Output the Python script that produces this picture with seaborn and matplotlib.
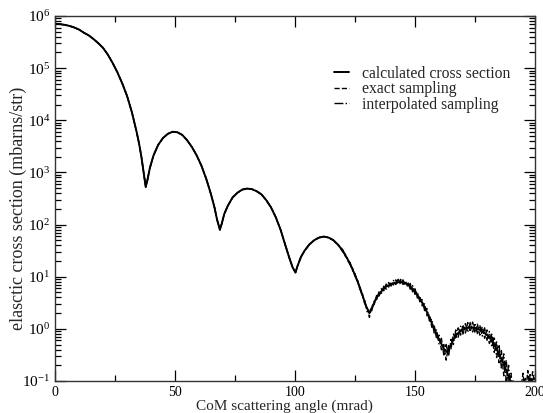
import numpy as np
import matplotlib
matplotlib.use("Agg")
import matplotlib.pyplot as plt
import seaborn as sns
from matplotlib.ticker import LogLocator, MultipleLocator, NullFormatter

# calculated cross section: angle (mrad) and log10 of cross section (mbarns/str)
calc_angle = [0, 2, 4, 6, 8, 10, 12, 14, 16, 18, 20, 22, 24, 26, 28, 30, 32,
              34, 35, 36, 37, 37.8, 38.5, 39.5, 41, 43, 45, 47, 49, 51, 53, 55,
              57, 59, 61, 63, 65, 66.5, 67.5, 68.7, 69.5, 70.5, 72, 74, 76, 78,
              80, 82, 84, 86, 88, 90, 92, 94, 96, 97.5, 99, 100.2, 101, 102.5,
              104, 106, 108, 110, 112, 114, 116, 118, 120, 122, 124, 126, 128,
              129.5, 131, 132.5, 134, 136, 138, 140, 142, 144, 146, 148, 150,
              152, 154, 156, 158, 160, 162, 163.5, 165, 167, 169, 171, 173, 175,
              177, 179, 181, 183, 185, 187, 189, 191, 193, 194, 196, 198, 200]
calc_log = [5.85, 5.845, 5.83, 5.81, 5.78, 5.74, 5.68, 5.63, 5.56, 5.48, 5.39,
            5.26, 5.10, 4.92, 4.71, 4.47, 4.16, 3.78, 3.56, 3.30, 2.98, 2.72,
            2.85, 3.08, 3.32, 3.53, 3.66, 3.74, 3.78, 3.77, 3.72, 3.62, 3.49,
            3.33, 3.13, 2.88, 2.58, 2.32, 2.10, 1.90, 2.02, 2.20, 2.36, 2.52,
            2.61, 2.67, 2.69, 2.68, 2.64, 2.58, 2.47, 2.33, 2.14, 1.90, 1.60,
            1.38, 1.18, 1.08, 1.20, 1.38, 1.50, 1.62, 1.70, 1.75, 1.77, 1.75,
            1.70, 1.61, 1.49, 1.33, 1.14, 0.92, 0.66, 0.45, 0.30, 0.45, 0.60,
            0.72, 0.81, 0.86, 0.89, 0.90, 0.88, 0.82, 0.72, 0.58, 0.42, 0.22,
            0.00, -0.20, -0.38, -0.45, -0.30, -0.12, -0.04, 0.01, 0.03, 0.02,
            -0.02, -0.08, -0.16, -0.30, -0.48, -0.68, -0.92, -1.20, -1.60,
            -1.50, -1.15, -1.00, -0.95]

tail_angle = list(range(120, 201))
exact_tail_log = [1.51, 1.39, 1.35, 1.22, 1.16, 1.01, 0.95, 0.76, 0.69, 0.49,
                  0.42, 0.22, 0.44, 0.47, 0.64, 0.62, 0.77, 0.73, 0.86, 0.80,
                  0.90, 0.84, 0.94, 0.86, 0.95, 0.85, 0.92, 0.80, 0.87, 0.71,
                  0.77, 0.59, 0.63, 0.44, 0.48, 0.25, 0.28, 0.03, 0.07, -0.20,
                  -0.12, -0.40, -0.30, -0.60, -0.32, -0.38, -0.10, -0.20, 0.02,
                  -0.12, 0.08, -0.08, 0.12, -0.06, 0.13, -0.08, 0.09, -0.12,
                  0.04, -0.18, -0.02, -0.28, -0.10, -0.45, -0.25, -0.65, -0.42,
                  -0.90, -0.60, -1.10, -0.85, -1.30, -1.05, -1.40, -1.20, -0.85,
                  -1.30, -0.80, -1.25, -0.82, -1.10]
interp_tail_log = [1.47, 1.43, 1.30, 1.27, 1.11, 1.06, 0.89, 0.82, 0.62, 0.56,
                   0.33, 0.36, 0.35, 0.54, 0.56, 0.71, 0.68, 0.82, 0.76, 0.89,
                   0.82, 0.93, 0.85, 0.95, 0.85, 0.94, 0.83, 0.90, 0.76, 0.83,
                   0.66, 0.71, 0.52, 0.56, 0.35, 0.39, 0.15, 0.19, -0.08, -0.02,
                   -0.30, -0.18, -0.50, -0.30, -0.52, -0.20, -0.30, -0.02, -0.16,
                   0.05, -0.10, 0.10, -0.07, 0.12, -0.06, 0.11, -0.09, 0.07,
                   -0.14, 0.02, -0.22, -0.05, -0.35, -0.15, -0.55, -0.30, -0.75,
                   -0.48, -1.00, -0.70, -1.25, -1.00, -1.60, -1.20, -1.70, -1.05,
                   -0.95, -1.35, -0.85, -1.20, -0.88]

labels = ["calculated cross section", "exact sampling", "interpolated sampling"]

sns.set_style("ticks")
plt.rcParams["font.family"] = ["Liberation Serif", "DejaVu Serif"]
plt.rcParams["mathtext.fontset"] = "stix"

fig = plt.figure(figsize=(5.43, 4.13), dpi=100)
ax = fig.add_axes([55 / 543, 1 - 381 / 413, 480 / 543, 365 / 413])

head = [i for i, a in enumerate(calc_angle) if a < 120]
samp_angle = [calc_angle[i] for i in head] + tail_angle
exact_y = 10 ** np.array([calc_log[i] for i in head] + exact_tail_log)
interp_y = 10 ** np.array([calc_log[i] for i in head] + interp_tail_log)

sns.lineplot(x=samp_angle, y=exact_y, ax=ax, color="black", lw=1.0,
             linestyle="--", label=labels[1], sort=False)
sns.lineplot(x=samp_angle, y=interp_y, ax=ax, color="black", lw=1.0,
             linestyle="-.", label=labels[2], sort=False)
sns.lineplot(x=calc_angle, y=10 ** np.array(calc_log), ax=ax, color="black",
             lw=1.4, label=labels[0], sort=False)

ax.set_yscale("log")
ax.set_xlim(0, 200)
ax.set_ylim(1e-1, 1e6)
ax.xaxis.set_major_locator(MultipleLocator(50))
ax.xaxis.set_minor_locator(MultipleLocator(25))
ax.yaxis.set_major_locator(LogLocator(base=10, numticks=10))
ax.yaxis.set_minor_locator(LogLocator(base=10, subs=np.arange(2, 10), numticks=20))
ax.yaxis.set_minor_formatter(NullFormatter())
ax.tick_params(which="both", direction="in", top=True, right=True,
               colors="black")
ax.tick_params(axis="x", labelsize=10)
ax.tick_params(axis="y", labelsize=11)
ax.tick_params(which="major", length=8, width=0.9)
ax.tick_params(which="minor", length=4, width=0.9)
for s in ax.spines.values():
    s.set_visible(True)
    s.set_linewidth(1.0)
    s.set_color("#333333")

ax.set_xlabel("CoM scattering angle (mrad)", fontsize=11)
ax.set_ylabel("elasctic cross section (mbarns/str)", fontsize=13)
ax.xaxis.set_label_coords(0.479, -0.05)
ax.yaxis.set_label_coords(-0.058, 0.474)

h, l = ax.get_legend_handles_labels()
order = [l.index(t) for t in labels]
ax.legend([h[i] for i in order], [l[i] for i in order], loc="upper left",
          bbox_to_anchor=(0.551, 0.902), frameon=False, fontsize=11.3,
          handlelength=1.0, handletextpad=0.8, labelspacing=-0.04)

fig.savefig("out.png", dpi=100)
